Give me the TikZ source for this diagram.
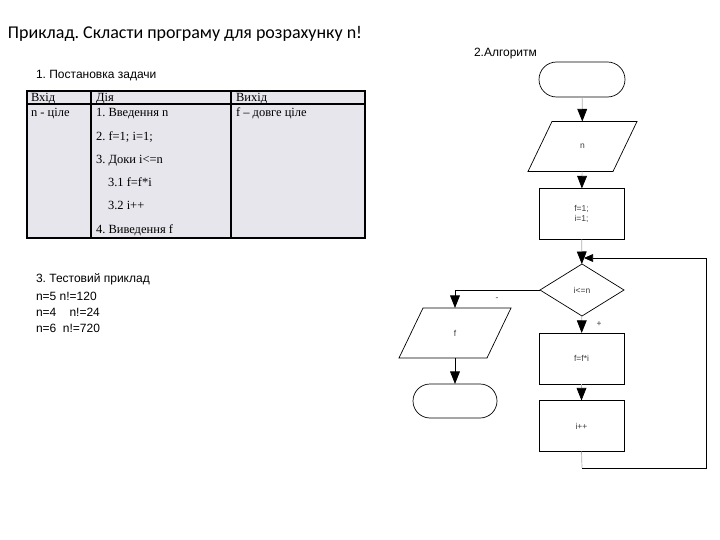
\documentclass[tikz,border=0pt]{standalone}
\usepackage{fontspec}
\setmainfont{Liberation Sans}
\newfontfamily\titlefont{Carlito}
\newfontfamily\tabfont{Liberation Serif}
\usetikzlibrary{arrows.meta,calc,shapes.misc,shapes.geometric}
\definecolor{tabbg}{RGB}{230,230,236}
\definecolor{connGrey}{RGB}{175,175,175}
\definecolor{fctext}{RGB}{60,60,60}
\frenchspacing
\begin{document}
\begin{tikzpicture}[x=1pt,y=-1pt,
  every node/.style={inner sep=0pt,outer sep=0pt},
  shapeline/.style={draw=black,line width=0.7pt},
  term/.style={shapeline,rounded rectangle,minimum width=86pt,minimum height=35pt},
  procbox/.style={shapeline,rectangle,minimum width=85pt,minimum height=51pt,font=\fontsize{8.5}{10}\selectfont,text=fctext,align=center},
  iobox/.style={rectangle,minimum height=50pt,font=\fontsize{8.5}{10}\selectfont,text=fctext},
  fctxt/.style={font=\fontsize{8.5}{10}\selectfont,text=fctext},
  plain/.style={font=\fontsize{12}{14}\selectfont,anchor=base west},
  tabtxt/.style={font=\tabfont\fontsize{12.5}{14}\selectfont,anchor=base west},
  conngrey/.style={draw=connGrey,line width=0.7pt,arrows={-Triangle[width=7pt,length=9pt,fill=black,color=black,scale=1.4]}},
  connblack/.style={draw=black,line width=0.8pt,arrows={-Triangle[width=7pt,length=9pt,scale=1.4]}}
]
\useasboundingbox (0,0) rectangle (720,540);

% title and headings
\node[font=\titlefont\fontsize{18}{21}\selectfont,anchor=base west] (title) at (8,39) {Приклад. Скласти програму для розрахунку n!};
\node[plain] (h1) at (36,79) {1. Постановка задачи};
\node[plain] (h2) at (474,57) {2.Алгоритм};

% table
\fill[tabbg] (27,91) rectangle (365,238);
\draw[line width=1.3pt] (27,91) rectangle (365,238);
\draw[line width=1.3pt] (27,104) -- (365,104);
\draw[line width=1.3pt] (91,91) -- (91,238);
\draw[line width=1.3pt] (231,91) -- (231,238);
\node[tabtxt] (th1) at (31,102) {Вхід};
\node[tabtxt] (th2) at (96,102) {Дія};
\node[tabtxt] (th3) at (236,102) {Вихід};
\node[tabtxt] (c1) at (31,117) {n - ціле};
\node[tabtxt] (c3) at (236,117) {f – довге ціле};
\node[tabtxt] (a1) at (96,117) {1. Введення n};
\node[tabtxt] (a2) at (96,140.5) {2. f=1; i=1;};
\node[tabtxt] (a3) at (96,164) {3. Доки i<=n};
\node[tabtxt] (a4) at (108,187) {3.1 f=f*i};
\node[tabtxt] (a5) at (108,210) {3.2 i++};
\node[tabtxt] (a6) at (96,233.5) {4. Виведення f};

% test example
\node[plain] (t0) at (36,282) {3. Тестовий приклад};
\node[plain] (t1) at (36,300) {n=5 n!=120};
\node[plain] (t2) at (36,316) {n=4\hspace{1.1em}n!=24};
\node[plain] (t3) at (36,332) {n=6\hspace{0.55em}n!=720};

% flowchart
\node[term] (start) at (582,79.5) {};
\node[iobox,minimum width=85pt] (inN) at (582.5,146.5) {n};
\draw[shapeline] ($(inN.north west)+(12,0)$) -- ($(inN.north east)+(12,0)$)
  -- ($(inN.south east)+(-12,0)$) -- ($(inN.south west)+(-12,0)$) -- cycle;
\node[procbox] (init) at (581.5,214) {f=1;\\i=1;};
\node[shapeline,fctxt,diamond,minimum width=84pt,minimum height=52pt] (cond) at (582,290) {i<=n};
\node[procbox] (body) at (581.5,358.5) {f=f*i};
\node[procbox] (incr) at (581.5,426) {i++};
\node[iobox,minimum width=88pt] (outF) at (455,333) {f};
\draw[shapeline] ($(outF.north west)+(12,0)$) -- ($(outF.north east)+(12,0)$)
  -- ($(outF.south east)+(-12,0)$) -- ($(outF.south west)+(-12,0)$) -- cycle;
\node[term,minimum width=84pt,minimum height=34pt] (stop) at (455,401) {};

\draw[conngrey] (start) -- (inN);
\draw[conngrey] (inN) -- (init);
\draw[conngrey] (init) -- (cond);
\draw[connblack] (cond.west) -| (outF.north);
\draw[connblack] (outF) -- (stop);
\draw[conngrey] (cond) -- (body);
\draw[conngrey] (body) -- (incr);
\coordinate (loopB) at (582,468);
\coordinate (loopR) at (706,468);
\coordinate (loopT) at (706,258);
\draw[draw=connGrey,line width=0.7pt] (incr.south) -- (loopB);
\draw[black,line width=0.8pt,arrows={-Triangle[width=6pt,length=7pt,scale=1.3]}] (loopB) -- (loopR) -- (loopT) -- ($(cond.north)+(2,-6)$);
\node[fctxt] (minus) at (497,299) {-};
\node[fctxt] (plus) at (599,324) {+};
\end{tikzpicture}
\end{document}
